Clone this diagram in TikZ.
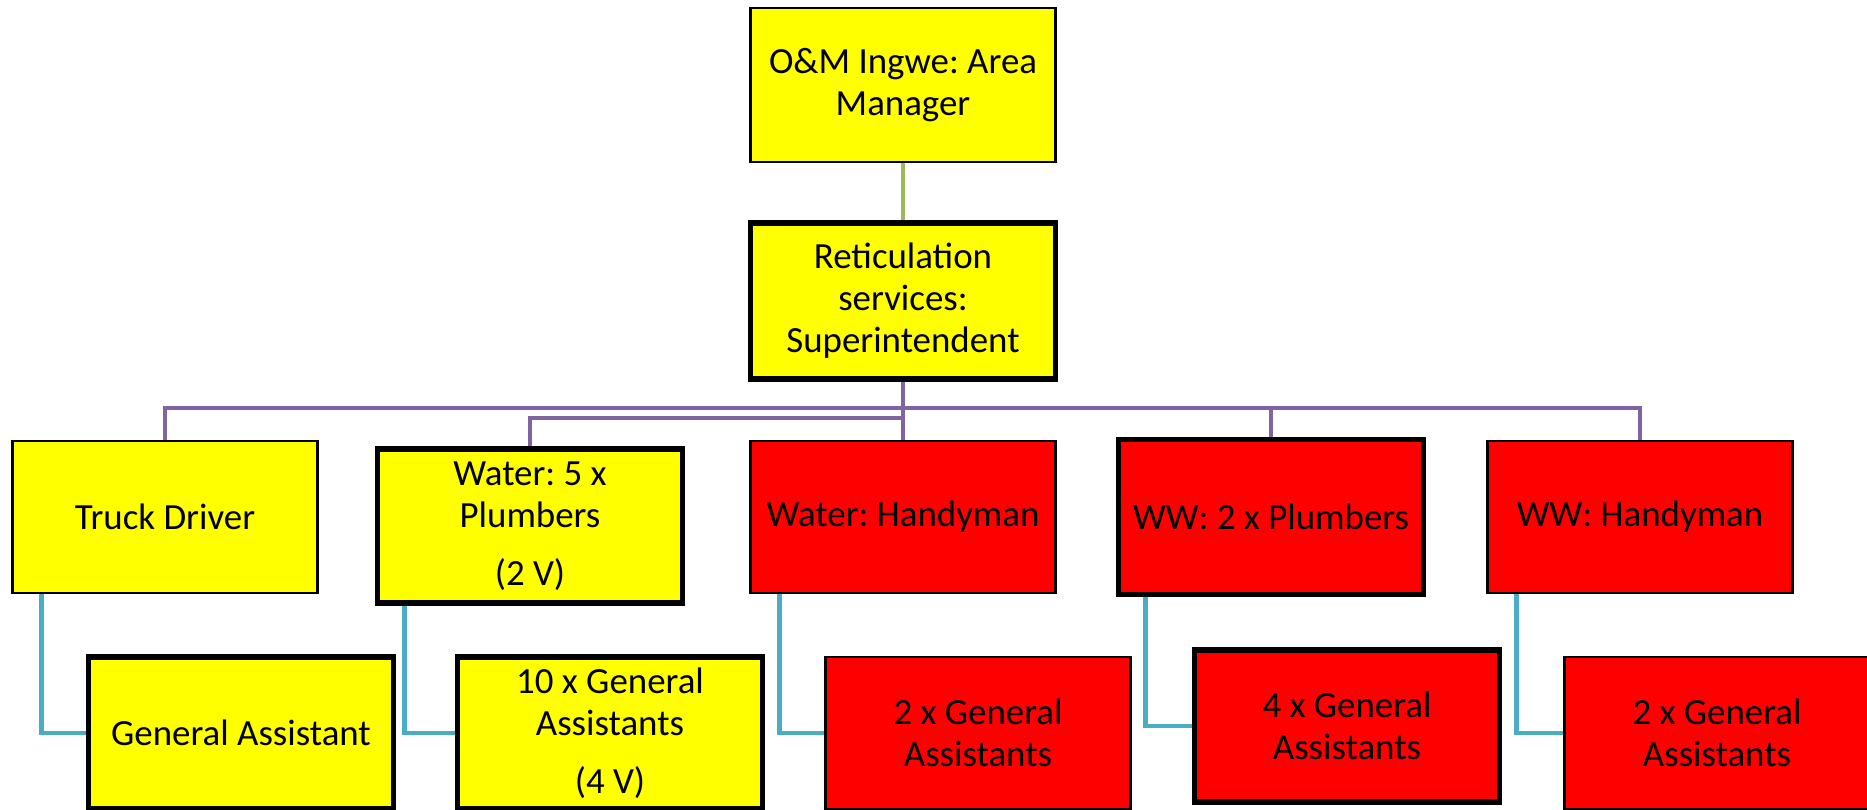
\documentclass[tikz,border=0pt]{standalone}
\usepackage{fontspec}
\setmainfont{Carlito}
\usepackage{tikz}
\frenchspacing
\definecolor{postyellow}{HTML}{FFFF00}
\definecolor{postred}{HTML}{FF0000}
\definecolor{linkgreen}{HTML}{9BBB59}
\definecolor{linkpurple}{HTML}{8064A2}
\definecolor{linkcyan}{HTML}{4BACC6}

\begin{document}
\begin{tikzpicture}[x=0.02cm, y=-0.02cm,
	post/.style={draw=black, line width=1.5pt, inner sep=0pt, align=center, minimum width=6.1cm, minimum height=3.04cm, font=\fontsize{21}{24}\selectfont},
	keypost/.style={post, line width=3pt},
	yellowpost/.style={fill=postyellow},
	redpost/.style={fill=postred},
	toplink/.style={draw=linkgreen, line width=2.4pt},
	buslink/.style={draw=linkpurple, line width=2.8pt},
	sublink/.style={draw=linkcyan, line width=2.8pt}]
	\useasboundingbox (0,0) rectangle (1867,810);
	% management
	\node[post, yellowpost, minimum height=3.08cm] (manager) at (903,85) {O\&M Ingwe: Area\\Manager};
	\node[keypost, yellowpost, minimum height=3.12cm] (super) at (903,301) {Reticulation\\services:\\Superintendent};
	% first line
	\node[post, yellowpost] (truck) at (165,517) {Truck Driver};
	\node[keypost, yellowpost, minimum height=3.08cm] (wplumb) at (530,526) {Water: 5 x\\Plumbers\\[9pt](2 V)};
	\node[post, redpost] (whandy) at (903,517) {Water: Handyman};
	\node[keypost, redpost, minimum height=3.1cm] (wwplumb) at (1271,517) {WW: 2 x Plumbers};
	\node[post, redpost] (wwhandy) at (1640,517) {WW: Handyman};
	% assistants
	\node[keypost, yellowpost] (truckga) at (241,733) {General Assistant};
	\node[keypost, yellowpost] (wplumbga) at (610,733) {10 x General\\Assistants\\[9pt](4 V)};
	\node[post, redpost] (whandyga) at (978,733) {2 x General\\Assistants};
	\node[keypost, redpost] (wwplumbga) at (1347,726) {4 x General\\Assistants};
	\node[post, redpost] (wwhandyga) at (1717,733) {2 x General\\Assistants};
	% connectors
	\coordinate (busA) at (903,408);
	\coordinate (busB) at (903,418);
	\draw[toplink] (manager) -- (super);
	\draw[buslink] (super.south) -- (whandy.north);
	\draw[buslink] (truck.north) |- (busA) -| (wwhandy.north);
	\draw[buslink] (wwplumb.north) -- (wwplumb.north |- busA);
	\draw[buslink] (wplumb.north) |- (busB);
	\draw[sublink] ([xshift=0.6cm]truck.south west) |- (truckga.west);
	\draw[sublink] ([xshift=0.6cm]wplumb.south west) |- (wplumbga.west);
	\draw[sublink] ([xshift=0.6cm]whandy.south west) |- (whandyga.west);
	\draw[sublink] ([xshift=0.6cm]wwplumb.south west) |- (wwplumbga.west);
	\draw[sublink] ([xshift=0.6cm]wwhandy.south west) |- (wwhandyga.west);
\end{tikzpicture}
\end{document}
